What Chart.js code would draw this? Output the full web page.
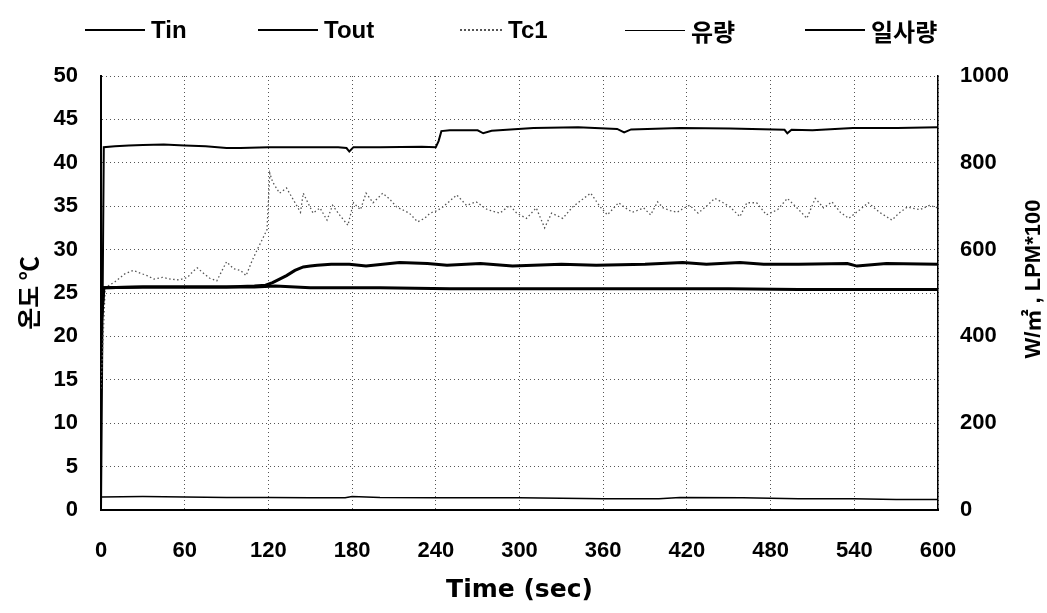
<!DOCTYPE html>
<html><head><meta charset="utf-8">
<script src="https://cdn.jsdelivr.net/npm/chart.js@4.4.1/dist/chart.umd.min.js"></script>
<style>
html,body{margin:0;padding:0;background:#fff;}
#wrap{position:relative;width:1047px;height:613px;}
#legend{position:absolute;left:0;top:0;width:1047px;height:60px;font:bold 24px "Liberation Sans","Noto Sans CJK KR",sans-serif;color:#000;}
.item{position:absolute;top:16px;height:28px;display:flex;align-items:center;white-space:nowrap;}
.sw{display:inline-block;margin-right:6px;height:0;}
</style></head><body>
<div id="wrap"><canvas id="c" width="1047" height="613"></canvas><div id="legend"></div></div>
<script>
// ---------- data ----------
const seriesNames = ['Tin', 'Tout', 'Tc1', '유량', '일사량'];
const xTicks = [0, 60, 120, 180, 240, 300, 360, 420, 480, 540, 600];
const xTitle = 'Time (sec)';
const leftTitle = '온도 ℃';
const rightTitle = 'W/㎡ , LPM*100';

const tinTime = [0, 2, 30, 60, 90, 110, 125, 150, 200, 250, 300, 350, 400, 450, 500, 550, 600];
const tinVal  = [21, 25.6, 25.7, 25.7, 25.7, 25.7, 25.8, 25.6, 25.6, 25.5, 25.5, 25.5, 25.5, 25.5, 25.4, 25.4, 25.4];

const toutTime = [0, 2, 30, 60, 90, 110, 118, 123, 128, 133, 139, 145, 150, 155, 165, 178, 190, 214, 234, 248, 272, 295, 330, 355, 390, 417, 434, 458, 475, 500, 535, 542, 563, 600];
const toutVal  = [21, 25.6, 25.7, 25.7, 25.7, 25.8, 25.9, 26.2, 26.6, 27.0, 27.6, 28.0, 28.1, 28.2, 28.3, 28.3, 28.1, 28.5, 28.4, 28.2, 28.4, 28.1, 28.3, 28.2, 28.3, 28.5, 28.3, 28.5, 28.3, 28.3, 28.4, 28.1, 28.4, 28.3];

const tc1Time = [0, 3, 10, 17, 23, 28, 33, 38, 44, 50, 56, 62, 66, 69, 74, 78, 83, 90, 95, 100, 104, 108, 112, 116, 119, 121, 123, 128, 133, 138, 143, 145, 148, 152, 157, 162, 166, 171, 177, 181, 186, 190, 195, 202, 207, 212, 216, 221, 227, 232, 236, 241, 245, 250, 255, 262, 269, 277, 286, 293, 298, 305, 312, 318, 323, 331, 338, 346, 351, 358, 363, 371, 376, 381, 389, 394, 399, 403, 408, 413, 418, 422, 428, 434, 440, 446, 451, 458, 463, 470, 477, 485, 492, 499, 506, 512, 518, 524, 530, 536, 544, 550, 558, 567, 572, 578, 587, 594, 600];
const tc1Val  = [14, 25.6, 26.3, 27.2, 27.6, 27.3, 27.0, 26.6, 26.8, 26.6, 26.5, 26.8, 27.5, 27.9, 27.2, 26.7, 26.4, 28.6, 27.8, 27.6, 27.0, 28.6, 30.0, 31.3, 32.3, 38.8, 37.8, 36.5, 37.1, 35.7, 34.3, 36.5, 35.5, 34.2, 34.8, 33.4, 35.1, 34.0, 32.8, 35.4, 34.6, 36.5, 35.4, 36.5, 35.8, 34.9, 34.6, 34.2, 33.2, 33.6, 34.2, 34.5, 34.9, 35.6, 36.3, 35.1, 35.5, 34.6, 34.2, 35.1, 34.2, 33.6, 34.8, 32.5, 34.2, 33.6, 34.9, 35.9, 36.5, 34.9, 34.0, 35.4, 34.8, 34.3, 34.8, 34.0, 35.5, 34.8, 34.5, 34.3, 34.8, 35.1, 34.2, 35.0, 35.9, 35.4, 34.9, 33.8, 35.4, 35.4, 34.0, 34.6, 35.9, 34.8, 33.6, 35.9, 34.8, 35.5, 34.3, 33.6, 34.6, 35.4, 34.3, 33.4, 34.2, 34.9, 34.6, 35.1, 34.8];

const flowTime = [0, 30, 60, 90, 120, 150, 175, 180, 200, 240, 280, 300, 330, 360, 400, 415, 460, 500, 540, 570, 600];
const flowVal  = [30, 31, 30, 29, 29, 28, 28, 31, 29, 28, 28, 28, 27, 26, 26, 29, 28, 26, 26, 24, 24];

const solarTime = [0, 2, 10, 20, 30, 45, 60, 75, 90, 100, 120, 150, 170, 176, 178, 181, 200, 230, 240, 242, 244, 250, 270, 274, 280, 310, 342, 370, 375, 380, 415, 451, 490, 492, 495, 510, 539, 571, 600];
const solarVal  = [0, 836, 838, 840, 841, 842, 840, 838, 834, 834, 836, 836, 836, 834, 826, 836, 836, 837, 836, 850, 873, 875, 875, 868, 874, 880, 882, 878, 870, 877, 880, 879, 876, 868, 876, 875, 880, 880, 882];

// ---------- build ----------
const pts = (t, v) => t.map((x, i) => ({x: x, y: v[i]}));
const tickFont = {family: '"Liberation Sans", "Noto Sans CJK KR", sans-serif', size: 22, weight: 'bold'};

const datasets = [
  {label: seriesNames[0], data: pts(tinTime, tinVal), yAxisID: 'y', borderColor: '#000', borderWidth: 3},
  {label: seriesNames[1], data: pts(toutTime, toutVal), yAxisID: 'y', borderColor: '#000', borderWidth: 3},
  {label: seriesNames[2], data: pts(tc1Time, tc1Val), yAxisID: 'y', borderColor: '#555', borderWidth: 1.3, borderDash: [1.5, 2.5]},
  {label: seriesNames[3], data: pts(flowTime, flowVal), yAxisID: 'y1', borderColor: '#000', borderWidth: 1.5},
  {label: seriesNames[4], data: pts(solarTime, solarVal), yAxisID: 'y1', borderColor: '#000', borderWidth: 2}
];
datasets.forEach(d => { d.pointRadius = 0; d.tension = 0; d.fill = false; });

const rightTitlePlugin = {
  id: 'rightTitle',
  afterDraw(chart) {
    const ctx = chart.ctx, s = chart.scales.y1, a = chart.chartArea;
    ctx.save();
    ctx.translate(s.right - 13, (a.top + a.bottom) / 2 - 14);
    ctx.rotate(-Math.PI / 2);
    ctx.font = 'bold 22px "Liberation Sans", "Noto Sans CJK KR", sans-serif';
    ctx.fillStyle = '#000';
    ctx.textAlign = 'center';
    ctx.textBaseline = 'middle';
    ctx.fillText(rightTitle, 0, 0);
    ctx.restore();
  }
};

const chart = new Chart(document.getElementById('c'), {
  type: 'line',
  data: {datasets},
  options: {
    responsive: false,
    animation: false,
    layout: {padding: {top: 76, left: 0, right: 0, bottom: 0}},
    plugins: {legend: {display: false}, tooltip: {enabled: false}},
    scales: {
      x: {
        type: 'linear', min: 0, max: 600,
        afterBuildTicks: s => { s.ticks = xTicks.map(v => ({value: v})); },
        afterFit: s => { s.height = 103; },
        grid: {color: '#555', lineWidth: 1, drawTicks: false},
        border: {display: true, color: '#000', width: 2, dash: [1, 3]},
        ticks: {font: tickFont, color: '#000', padding: 28, maxRotation: 0, autoSkip: false},
        title: {display: true, text: xTitle, color: '#000', font: {family: '"DejaVu Sans", sans-serif', size: 25, weight: 'bold'}, padding: {top: 0, bottom: 8}}
      },
      y: {
        type: 'linear', position: 'left', min: 0, max: 50,
        afterFit: s => { s.width = 101; },
        grid: {color: '#555', lineWidth: 1, drawTicks: false},
        border: {display: true, color: '#000', width: 2, dash: [1, 3]},
        ticks: {stepSize: 5, font: tickFont, color: '#000', padding: 23},
        title: {display: true, text: leftTitle, color: '#000', font: {family: '"Noto Sans CJK KR", sans-serif', size: 24, weight: 'bold'}, padding: {top: 14, bottom: 0}}
      },
      y1: {
        type: 'linear', position: 'right', min: 0, max: 1000,
        afterFit: s => { s.width = 109; },
        grid: {drawOnChartArea: false, drawTicks: false},
        border: {display: true, color: '#000', width: 1.5},
        ticks: {stepSize: 200, font: tickFont, color: '#000', padding: 22, callback: v => String(v)}
      }
    }
  },
  plugins: [rightTitlePlugin]
});

// ---------- HTML legend built from the chart's datasets ----------
const legendLeft = [85, 258, 460, 625, 805];
const swatchWidth = [60, 60, 42, 60, 60];
const legendEl = document.getElementById('legend');
chart.data.datasets.forEach((d, i) => {
  const item = document.createElement('div');
  item.className = 'item';
  item.style.left = legendLeft[i] + 'px';
  const sw = document.createElement('span');
  sw.className = 'sw';
  sw.style.width = swatchWidth[i] + 'px';
  const dashed = d.borderDash && d.borderDash.length;
  sw.style.borderTop = (dashed ? '2px dotted ' : Math.max(1.5, Math.min(d.borderWidth, 2.5)) + 'px solid ') + d.borderColor;
  item.appendChild(sw);
  const tx = document.createElement('span');
  tx.textContent = d.label;
  item.appendChild(tx);
  legendEl.appendChild(item);
});
</script>
</body></html>
